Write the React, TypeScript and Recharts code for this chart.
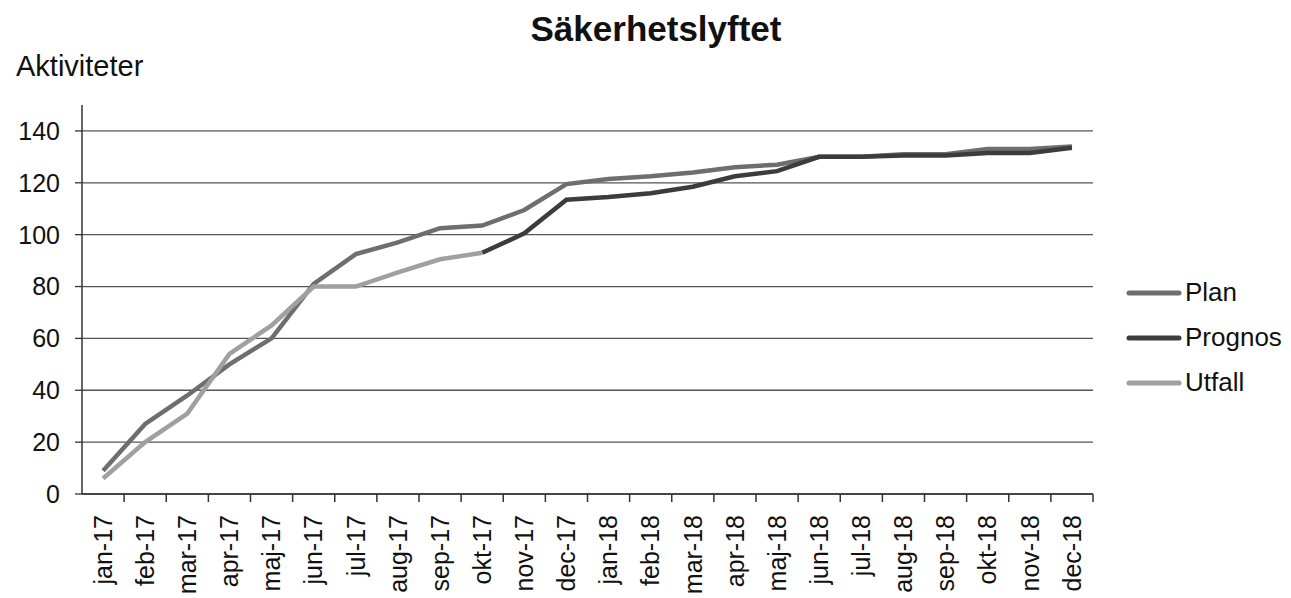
import { CartesianGrid, Legend, Line, LineChart, XAxis, YAxis } from "recharts";

const MONTHS = [
  "jan-17", "feb-17", "mar-17", "apr-17", "maj-17", "jun-17",
  "jul-17", "aug-17", "sep-17", "okt-17", "nov-17", "dec-17",
  "jan-18", "feb-18", "mar-18", "apr-18", "maj-18", "jun-18",
  "jul-18", "aug-18", "sep-18", "okt-18", "nov-18", "dec-18",
];

const PLAN = [
  9, 27, 38, 50, 60, 81, 92.5, 97, 102.5, 103.5, 109.5, 119.5,
  121.5, 122.5, 124, 126, 127, 130, 130, 131, 131, 133, 133, 134,
];

const PROGNOS: (number | null)[] = [
  null, null, null, null, null, null, null, null, null, 93, 100.5, 113.5,
  114.5, 116, 118.5, 122.5, 124.5, 130, 130, 130.5, 130.5, 131.5, 131.5, 133.5,
];

const UTFALL: (number | null)[] = [
  6, 20, 31, 54, 65, 80, 80, 85.5, 90.5, 93, null, null,
  null, null, null, null, null, null, null, null, null, null, null, null,
];

const Y_TICKS = [0, 20, 40, 60, 80, 100, 120, 140];

const data = MONTHS.map((m, i) => ({
  month: m,
  plan: PLAN[i],
  prognos: PROGNOS[i],
  utfall: UTFALL[i],
}));

const W = 1291;
const H = 598;
const LEFT = 82;
const RIGHT = 198;
const LEGEND_W = 165;
const STEP = (W - LEFT - RIGHT) / MONTHS.length;
const FONT = "'Liberation Sans', Arial, sans-serif";

function MonthTick(props: any) {
  const { x, y, payload } = props;
  return (
    <g>
      <line x1={x + STEP / 2} y1={y} x2={x + STEP / 2} y2={y + 8} stroke="#333" strokeWidth={1.5} />
      <text
        x={x}
        y={y + 21}
        transform={`rotate(-90, ${x}, ${y + 21})`}
        textAnchor="end"
        dy="0.35em"
        fontSize={25}
        fontFamily={FONT}
        fill="#111"
      >
        {payload.value}
      </text>
    </g>
  );
}

function LegendBox(props: any) {
  const items = props.payload ?? [];
  return (
    <div style={{ fontFamily: FONT, fontSize: 26, color: "#111" }}>
      {items.map((it: any) => (
        <div key={it.value} style={{ height: 45, display: "flex", alignItems: "center" }}>
          <svg width={56} height={8} style={{ marginRight: 3 }}>
            <line x1={3} y1={4} x2={53} y2={4} stroke={it.color} strokeWidth={5} strokeLinecap="round" />
          </svg>
          <span>{it.value}</span>
        </div>
      ))}
    </div>
  );
}

export default function App() {
  return (
    <div style={{ position: "absolute", left: 0, top: 0, width: W, height: H, background: "#fff" }}>
      <div
        style={{
          position: "absolute",
          left: 0,
          width: 1312,
          top: 11,
          textAlign: "center",
          fontFamily: FONT,
          fontWeight: "bold",
          fontSize: 35,
          lineHeight: "35px",
          color: "#111",
        }}
      >
        Säkerhetslyftet
      </div>
      <div
        style={{
          position: "absolute",
          left: 16,
          top: 52,
          fontFamily: FONT,
          fontSize: 29,
          lineHeight: "29px",
          color: "#111",
        }}
      >
        Aktiviteter
      </div>
      <LineChart
        width={W}
        height={H}
        data={data}
        margin={{ top: 105, right: RIGHT - LEGEND_W, left: 0, bottom: 0 }}
      >
        <CartesianGrid vertical={false} syncWithTicks stroke="#555" strokeWidth={1.3} />
        <XAxis
          dataKey="month"
          height={104}
          interval={0}
          padding={{ left: STEP / 2, right: STEP / 2 }}
          axisLine={{ stroke: "#333", strokeWidth: 1.5 }}
          tickLine={false}
          tickSize={0}
          tickMargin={0}
          tick={<MonthTick />}
        />
        <YAxis
          width={LEFT}
          domain={[0, 150]}
          ticks={Y_TICKS}
          interval={0}
          axisLine={{ stroke: "#333", strokeWidth: 1.5 }}
          tickLine={{ stroke: "#333", strokeWidth: 1.3 }}
          tickSize={7}
          tickMargin={15}
          tick={{ fontSize: 25, fontFamily: FONT, fill: "#111" }}
        />
        <Legend
          layout="vertical"
          align="right"
          verticalAlign="middle"
          content={<LegendBox />}
          wrapperStyle={{ position: "absolute", left: 1126, top: 270, width: LEGEND_W }}
        />
        <Line dataKey="plan" name="Plan" stroke="#6e6e6e" strokeWidth={4.5} dot={false} isAnimationActive={false} />
        <Line dataKey="prognos" name="Prognos" stroke="#3c3c3c" strokeWidth={4.5} dot={false} isAnimationActive={false} />
        <Line dataKey="utfall" name="Utfall" stroke="#a0a0a0" strokeWidth={4.5} dot={false} isAnimationActive={false} />
      </LineChart>
    </div>
  );
}
